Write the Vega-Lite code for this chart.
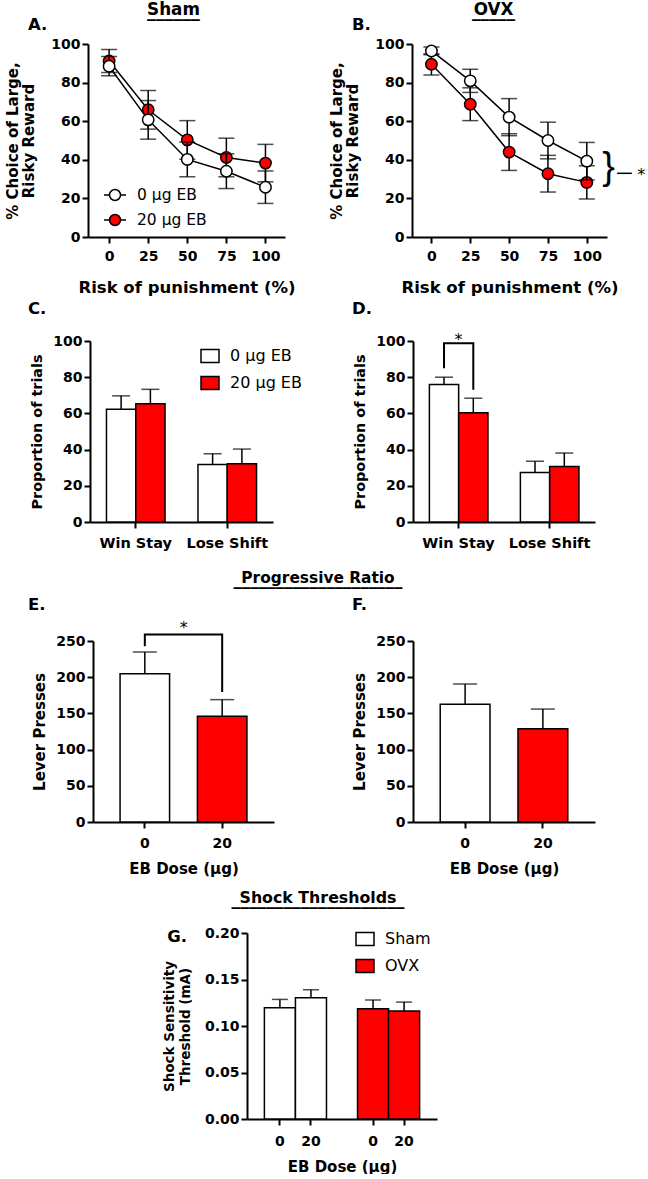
{
  "$schema": "https://vega.github.io/schema/vega-lite/v6.json",
  "padding": 0,
  "background": "white",
  "spacing": 0,
  "bounds": "flush",
  "resolve": {"scale": {"fill": "independent"}, "legend": {"fill": "independent"}},
  "config": {
    "font": "DejaVu Sans",
    "view": {"stroke": null},
    "axis": {"domainColor": "black", "domainWidth": 2, "tickColor": "black", "tickWidth": 2, "tickSize": 6, "labelFont": "DejaVu Sans", "labelFontWeight": "bold", "labelFontSize": 14, "labelColor": "black", "titleFont": "DejaVu Sans", "titleFontWeight": "bold", "titleColor": "black", "grid": false, "labelPadding": 2, "labelOverlap": false},
    "axisX": {"labelPadding": 6},
    "legend": {"labelFont": "DejaVu Sans", "labelColor": "black", "symbolStrokeColor": "black"},
    "title": {"font": "DejaVu Sans", "fontWeight": "bold", "color": "black", "subtitleFont": "DejaVu Sans", "subtitleFontWeight": "bold", "subtitleColor": "black"}
  },
  "vconcat": [
    {"width": 1, "height": 44, "data": {"values": []}, "mark": "point"},
    {
      "spacing": 0, "bounds": "flush",
      "resolve": {"scale": {"fill": "independent"}, "legend": {"fill": "independent"}},
      "hconcat": [
        {"width": 88, "height": 1, "data": {"values": []}, "mark": "point", "title": {"text": "A.", "anchor": "start", "frame": "group", "dx": 28, "offset": 10.5, "fontSize": 16.5}},
        {
          "width": 197, "height": 193,
          "title": {"text": "Sham", "subtitle": "______", "subtitleFontSize": 17.6, "subtitlePadding": -16.1, "anchor": "middle", "frame": "group", "dx": -13, "offset": 16.5, "fontSize": 16.8},
          "data": {"values": [
            {"risk": 0, "eb": 0, "dose": "0 µg EB", "mean": 88.5, "sem": 5},
            {"risk": 25, "eb": 0, "dose": "0 µg EB", "mean": 60.7, "sem": 10},
            {"risk": 50, "eb": 0, "dose": "0 µg EB", "mean": 40.2, "sem": 9},
            {"risk": 75, "eb": 0, "dose": "0 µg EB", "mean": 34.1, "sem": 9},
            {"risk": 100, "eb": 0, "dose": "0 µg EB", "mean": 25.8, "sem": 8.4},
            {"risk": 0, "eb": 20, "dose": "20 µg EB", "mean": 91.2, "sem": 6},
            {"risk": 25, "eb": 20, "dose": "20 µg EB", "mean": 65.9, "sem": 10},
            {"risk": 50, "eb": 20, "dose": "20 µg EB", "mean": 50.3, "sem": 10},
            {"risk": 75, "eb": 20, "dose": "20 µg EB", "mean": 41.2, "sem": 10},
            {"risk": 100, "eb": 20, "dose": "20 µg EB", "mean": 38.3, "sem": 9.7}
          ]},
          "encoding": {
            "x": {"field": "risk", "type": "quantitative", "scale": {"domain": [-13.5, 112.5], "nice": false, "zero": false}, "axis": {"values": [0, 25, 50, 75, 100], "titleFontSize": 16.5, "titlePadding": 16, "labelPadding": 6}, "title": "Risk of punishment (%)"},
            "y": {"field": "mean", "type": "quantitative", "scale": {"domain": [0, 100], "nice": false}, "axis": {"values": [0, 20, 40, 60, 80, 100], "titleFontSize": 15, "titlePadding": 14, "titleLineHeight": 16}, "title": ["%  Choice of Large,", "Risky  Reward"]}
          },
          "layer": [
            {"transform": [{"filter": "datum.eb == 20"}], "layer": [
              {"mark": {"type": "errorbar", "ticks": true, "size": 16, "thickness": 1.5, "color": "black"}, "encoding": {"yError": {"field": "sem"}}},
              {"mark": {"type": "line", "color": "black", "strokeWidth": 1.5}, "encoding": {}},
              {"mark": {"type": "point", "filled": true, "size": 130, "stroke": "black", "strokeWidth": 1.5, "opacity": 1}, "encoding": {"fill": {"field": "dose", "type": "nominal", "scale": {"domain": ["0 µg EB", "20 µg EB"], "range": ["white", "#ff0000"]}, "legend": {"title": null, "orient": "none", "legendX": 15, "legendY": 139, "symbolType": "M-1,0L-0.5,0M0.5,0L1,0M0.5,0A0.5,0.5,0,1,1,-0.5,0A0.5,0.5,0,1,1,0.5,0Z", "symbolSize": 484, "symbolStrokeWidth": 1.5, "symbolStrokeColor": "black", "labelFontSize": 15.5, "labelFontWeight": "normal", "labelOffset": 10, "rowPadding": 4, "padding": 0}}}}
            ]},
            {"transform": [{"filter": "datum.eb == 0"}], "layer": [
              {"mark": {"type": "errorbar", "ticks": true, "size": 16, "thickness": 1.5, "color": "black"}, "encoding": {"yError": {"field": "sem"}}},
              {"mark": {"type": "line", "color": "black", "strokeWidth": 1.5}, "encoding": {}},
              {"mark": {"type": "point", "filled": true, "size": 130, "stroke": "black", "strokeWidth": 1.5, "opacity": 1}, "encoding": {"fill": {"field": "dose", "type": "nominal", "scale": {"domain": ["0 µg EB", "20 µg EB"], "range": ["white", "#ff0000"]}}}}
            ]}
          ]
        },
        {"width": 127, "height": 1, "data": {"values": []}, "mark": "point", "title": {"text": "B.", "anchor": "start", "frame": "group", "dx": 67, "offset": 10.5, "fontSize": 16.5}},
        {
          "width": 195, "height": 193,
          "title": {"text": "OVX", "subtitle": "_____", "subtitleFontSize": 17.2, "subtitlePadding": -15.7, "anchor": "middle", "frame": "group", "dx": -16, "offset": 16.5, "fontSize": 16.8},
          "data": {"values": [
            {"risk": 0, "eb": 0, "dose": "0 µg EB", "mean": 96.4, "sem": 2},
            {"risk": 25, "eb": 0, "dose": "0 µg EB", "mean": 80.9, "sem": 6},
            {"risk": 50, "eb": 0, "dose": "0 µg EB", "mean": 62.1, "sem": 9.6},
            {"risk": 75, "eb": 0, "dose": "0 µg EB", "mean": 50, "sem": 9.5},
            {"risk": 100, "eb": 0, "dose": "0 µg EB", "mean": 39.3, "sem": 9.7},
            {"risk": 0, "eb": 20, "dose": "20 µg EB", "mean": 89.5, "sem": 5.5},
            {"risk": 25, "eb": 20, "dose": "20 µg EB", "mean": 68.8, "sem": 8.5},
            {"risk": 50, "eb": 20, "dose": "20 µg EB", "mean": 44, "sem": 9.5},
            {"risk": 75, "eb": 20, "dose": "20 µg EB", "mean": 32.8, "sem": 9.5},
            {"risk": 100, "eb": 20, "dose": "20 µg EB", "mean": 28.3, "sem": 8.6}
          ]},
          "encoding": {
            "x": {"field": "risk", "type": "quantitative", "scale": {"domain": [-12.5, 113], "nice": false, "zero": false}, "axis": {"values": [0, 25, 50, 75, 100], "titleFontSize": 16.5, "titlePadding": 16, "labelPadding": 6}, "title": "Risk of punishment (%)"},
            "y": {"field": "mean", "type": "quantitative", "scale": {"domain": [0, 100], "nice": false}, "axis": {"values": [0, 20, 40, 60, 80, 100], "titleFontSize": 15, "titlePadding": 14, "titleLineHeight": 16}, "title": ["%  Choice of Large,", "Risky  Reward"]}
          },
          "layer": [
            {"transform": [{"filter": "datum.eb == 20"}], "layer": [
              {"mark": {"type": "errorbar", "ticks": true, "size": 16, "thickness": 1.5, "color": "black"}, "encoding": {"yError": {"field": "sem"}}},
              {"mark": {"type": "line", "color": "black", "strokeWidth": 1.5}, "encoding": {}},
              {"mark": {"type": "point", "filled": true, "size": 130, "stroke": "black", "strokeWidth": 1.5, "opacity": 1}, "encoding": {"fill": {"field": "dose", "type": "nominal", "scale": {"domain": ["0 µg EB", "20 µg EB"], "range": ["white", "#ff0000"]}, "legend": null}}}
            ]},
            {"transform": [{"filter": "datum.eb == 0"}], "layer": [
              {"mark": {"type": "errorbar", "ticks": true, "size": 16, "thickness": 1.5, "color": "black"}, "encoding": {"yError": {"field": "sem"}}},
              {"mark": {"type": "line", "color": "black", "strokeWidth": 1.5}, "encoding": {}},
              {"mark": {"type": "point", "filled": true, "size": 130, "stroke": "black", "strokeWidth": 1.5, "opacity": 1}, "encoding": {"fill": {"field": "dose", "type": "nominal", "scale": {"domain": ["0 µg EB", "20 µg EB"], "range": ["white", "#ff0000"]}, "legend": null}}}
            ]},
            {"data": {"values": [{"risk": 114, "mean": 33, "label": "}"}]}, "mark": {"type": "text", "font": "Liberation Sans", "fontSize": 38, "fontWeight": "normal", "align": "center", "baseline": "middle", "dy": -5}, "encoding": {"text": {"field": "label"}}},
            {"data": {"values": [{"risk": 119.5, "risk2": 129, "mean": 33}]}, "mark": {"type": "rule", "color": "black", "strokeWidth": 1.5}, "encoding": {"x2": {"field": "risk2"}}},
            {"data": {"values": [{"risk": 135, "mean": 33, "label": "*"}]}, "mark": {"type": "text", "fontSize": 16, "align": "center", "baseline": "middle", "dy": 2}, "encoding": {"text": {"field": "label"}}}
          ]
        }
      ]
    },
    {"width": 1, "height": 297, "data": {"values": []}, "mark": "point"},
    {
      "spacing": 0, "bounds": "flush",
      "resolve": {"scale": {"fill": "independent"}, "legend": {"fill": "independent"}},
      "hconcat": [
        {"width": 90, "height": 1, "data": {"values": []}, "mark": "point", "title": {"text": "C.", "anchor": "start", "frame": "group", "dx": 28, "offset": 23.5, "fontSize": 16.5}},
        {
          "width": 183, "height": 181,
          "data": {"values": [
            {"cat": "Win Stay", "dose": "0 µg EB", "mean": 62.3, "hi": 69.7},
            {"cat": "Win Stay", "dose": "20 µg EB", "mean": 65.3, "hi": 73.3},
            {"cat": "Lose Shift", "dose": "0 µg EB", "mean": 31.8, "hi": 37.7},
            {"cat": "Lose Shift", "dose": "20 µg EB", "mean": 32.2, "hi": 40.3}
          ]},
          "encoding": {"x": {"field": "cat", "type": "nominal", "sort": ["Win Stay", "Lose Shift"], "scale": {"paddingInner": 0.36, "paddingOuter": 0.18}, "axis": {"labelAngle": 0, "labelFontSize": 14.5, "labelPadding": 8}, "title": null}},
          "layer": [
            {"mark": {"type": "rule", "color": "black", "strokeWidth": 1.5}, "encoding": {"xOffset": {"field": "dose", "type": "nominal", "scale": {"paddingInner": 0, "paddingOuter": 0}}, "y": {"field": "mean", "type": "quantitative", "scale": {"domain": [0, 100], "nice": false}, "axis": {"values": [0, 20, 40, 60, 80, 100], "titleFontSize": 14.4, "titlePadding": 8}, "title": "Proportion of trials"}, "y2": {"field": "hi"}}},
            {"mark": {"type": "bar", "stroke": "black", "strokeWidth": 1.5}, "encoding": {"xOffset": {"field": "dose", "type": "nominal"}, "y": {"field": "mean", "type": "quantitative", "stack": null, "scale": {"domain": [0, 100], "nice": false}, "axis": {"values": [0, 20, 40, 60, 80, 100], "titleFontSize": 14.4, "titlePadding": 8}, "title": "Proportion of trials"}, "fill": {"field": "dose", "type": "nominal", "scale": {"domain": ["0 µg EB", "20 µg EB"], "range": ["white", "#ff0000"]}, "legend": {"title": null, "orient": "none", "legendX": 110, "legendY": 5, "symbolType": "M-1,-0.72L1,-0.72L1,0.72L-1,0.72Z", "symbolSize": 324, "symbolStrokeWidth": 1.5, "symbolStrokeColor": "black", "labelFontSize": 16, "labelFontWeight": "normal", "labelOffset": 10, "rowPadding": 7, "padding": 0}}}},
            {"mark": {"type": "tick", "color": "black", "size": 18, "thickness": 1.5}, "encoding": {"xOffset": {"field": "dose", "type": "nominal"}, "y": {"field": "hi", "type": "quantitative", "scale": {"domain": [0, 100], "nice": false}, "axis": {"values": [0, 20, 40, 60, 80, 100], "titleFontSize": 14.4, "titlePadding": 8}, "title": "Proportion of trials"}}}
          ]
        },
        {"width": 140, "height": 1, "data": {"values": []}, "mark": "point", "title": {"text": "D.", "anchor": "start", "frame": "group", "dx": 79, "offset": 23.5, "fontSize": 16.5}},
        {
          "width": 182, "height": 181,
          "data": {"values": [
            {"cat": "Win Stay", "dose": "0 µg EB", "mean": 75.9, "hi": 80},
            {"cat": "Win Stay", "dose": "20 µg EB", "mean": 60.3, "hi": 68.4},
            {"cat": "Lose Shift", "dose": "0 µg EB", "mean": 27.4, "hi": 33.5},
            {"cat": "Lose Shift", "dose": "20 µg EB", "mean": 30.7, "hi": 38.1}
          ]},
          "encoding": {"x": {"field": "cat", "type": "nominal", "sort": ["Win Stay", "Lose Shift"], "scale": {"paddingInner": 0.36, "paddingOuter": 0.18}, "axis": {"labelAngle": 0, "labelFontSize": 14.5, "labelPadding": 8}, "title": null}},
          "layer": [
            {"mark": {"type": "rule", "color": "black", "strokeWidth": 1.5}, "encoding": {"xOffset": {"field": "dose", "type": "nominal", "scale": {"paddingInner": 0, "paddingOuter": 0}}, "y": {"field": "mean", "type": "quantitative", "scale": {"domain": [0, 100], "nice": false}, "axis": {"values": [0, 20, 40, 60, 80, 100], "titleFontSize": 14.4, "titlePadding": 8}, "title": "Proportion of trials"}, "y2": {"field": "hi"}}},
            {"mark": {"type": "bar", "stroke": "black", "strokeWidth": 1.5}, "encoding": {"xOffset": {"field": "dose", "type": "nominal"}, "y": {"field": "mean", "type": "quantitative", "stack": null, "scale": {"domain": [0, 100], "nice": false}, "axis": {"values": [0, 20, 40, 60, 80, 100], "titleFontSize": 14.4, "titlePadding": 8}, "title": "Proportion of trials"}, "fill": {"field": "dose", "type": "nominal", "scale": {"domain": ["0 µg EB", "20 µg EB"], "range": ["white", "#ff0000"]}, "legend": null}}},
            {"mark": {"type": "tick", "color": "black", "size": 18, "thickness": 1.5}, "encoding": {"xOffset": {"field": "dose", "type": "nominal"}, "y": {"field": "hi", "type": "quantitative", "scale": {"domain": [0, 100], "nice": false}, "axis": {"values": [0, 20, 40, 60, 80, 100], "titleFontSize": 14.4, "titlePadding": 8}, "title": "Proportion of trials"}}},
            {"data": {"values": [
              {"cat": "Win Stay", "dose": "0 µg EB", "mean": 85, "o": 1},
              {"cat": "Win Stay", "dose": "0 µg EB", "mean": 98.7, "o": 2},
              {"cat": "Win Stay", "dose": "20 µg EB", "mean": 98.7, "o": 3},
              {"cat": "Win Stay", "dose": "20 µg EB", "mean": 73, "o": 4}
            ]}, "mark": {"type": "line", "color": "black", "strokeWidth": 2}, "encoding": {"xOffset": {"field": "dose", "type": "nominal"}, "y": {"field": "mean", "type": "quantitative", "scale": {"domain": [0, 100], "nice": false}, "axis": {"values": [0, 20, 40, 60, 80, 100], "titleFontSize": 14.4, "titlePadding": 8}, "title": "Proportion of trials"}, "order": {"field": "o", "type": "quantitative"}}},
            {"data": {"values": [{"cat": "Win Stay", "mean": 103, "label": "*"}]}, "mark": {"type": "text", "fontSize": 16, "align": "center", "baseline": "middle", "dy": 4}, "encoding": {"y": {"field": "mean", "type": "quantitative", "scale": {"domain": [0, 100], "nice": false}, "axis": {"values": [0, 20, 40, 60, 80, 100], "titleFontSize": 14.4, "titlePadding": 8}, "title": "Proportion of trials"}, "text": {"field": "label"}}}
          ]
        }
      ]
    },
    {"width": 648, "height": 300, "data": {"values": []}, "mark": "point", "title": {"text": "Progressive Ratio", "subtitle": "____________________", "subtitleFontSize": 16.9, "subtitlePadding": -15.1, "anchor": "middle", "frame": "group", "dx": -6, "offset": -247.2, "fontSize": 15.4}},
    {
      "spacing": 0, "bounds": "flush",
      "resolve": {"scale": {"fill": "independent"}, "legend": {"fill": "independent"}},
      "hconcat": [
        {"width": 93, "height": 1, "data": {"values": []}, "mark": "point", "title": {"text": "E.", "anchor": "start", "frame": "group", "dx": 28, "offset": 27.5, "fontSize": 16.5}},
        {
          "width": 181, "height": 181,
          "data": {"values": [{"dose": "0", "mean": 204.9, "hi": 234.8}, {"dose": "20", "mean": 146, "hi": 169}]},
          "encoding": {"x": {"field": "dose", "type": "nominal", "sort": ["0", "20"], "scale": {"paddingInner": 0.36, "paddingOuter": 0.35}, "axis": {"labelAngle": 0, "labelPadding": 8, "titleFontSize": 15, "titlePadding": 11}, "title": "EB Dose (µg)"}},
          "layer": [
            {"mark": {"type": "rule", "color": "black", "strokeWidth": 1.5}, "encoding": {"y": {"field": "mean", "type": "quantitative", "scale": {"domain": [0, 250], "nice": false}, "axis": {"values": [0, 50, 100, 150, 200, 250], "titleFontSize": 15, "titlePadding": 8}, "title": "Lever Presses"}, "y2": {"field": "hi"}}},
            {"mark": {"type": "bar", "stroke": "black", "strokeWidth": 1.5}, "encoding": {"y": {"field": "mean", "type": "quantitative", "stack": null, "scale": {"domain": [0, 250], "nice": false}, "axis": {"values": [0, 50, 100, 150, 200, 250], "titleFontSize": 15, "titlePadding": 8}, "title": "Lever Presses"}, "fill": {"field": "dose", "type": "nominal", "scale": {"domain": ["0", "20"], "range": ["white", "#ff0000"]}, "legend": null}}},
            {"mark": {"type": "tick", "color": "black", "size": 24, "thickness": 1.5}, "encoding": {"y": {"field": "hi", "type": "quantitative", "scale": {"domain": [0, 250], "nice": false}, "axis": {"values": [0, 50, 100, 150, 200, 250], "titleFontSize": 15, "titlePadding": 8}, "title": "Lever Presses"}}},
            {"data": {"values": [
              {"dose": "0", "mean": 242.6, "o": 1},
              {"dose": "0", "mean": 259, "o": 2},
              {"dose": "20", "mean": 259, "o": 3},
              {"dose": "20", "mean": 179.5, "o": 4}
            ]}, "mark": {"type": "line", "color": "black", "strokeWidth": 2}, "encoding": {"y": {"field": "mean", "type": "quantitative", "scale": {"domain": [0, 250], "nice": false}, "axis": {"values": [0, 50, 100, 150, 200, 250], "titleFontSize": 15, "titlePadding": 8}, "title": "Lever Presses"}, "order": {"field": "o", "type": "quantitative"}}},
            {"data": {"values": [{"dose": "0", "mean": 273.5, "label": "*"}]}, "mark": {"type": "text", "fontSize": 16, "align": "center", "baseline": "middle", "dx": 39, "dy": 4}, "encoding": {"y": {"field": "mean", "type": "quantitative", "scale": {"domain": [0, 250], "nice": false}, "axis": {"values": [0, 50, 100, 150, 200, 250], "titleFontSize": 15, "titlePadding": 8}, "title": "Lever Presses"}, "text": {"field": "label"}}}
          ]
        },
        {"width": 139, "height": 1, "data": {"values": []}, "mark": "point", "title": {"text": "F.", "anchor": "start", "frame": "group", "dx": 78, "offset": 28, "fontSize": 16.5}},
        {
          "width": 182, "height": 181,
          "data": {"values": [{"dose": "0", "mean": 162.5, "hi": 190.6}, {"dose": "20", "mean": 128.9, "hi": 156}]},
          "encoding": {"x": {"field": "dose", "type": "nominal", "sort": ["0", "20"], "scale": {"paddingInner": 0.36, "paddingOuter": 0.35}, "axis": {"labelAngle": 0, "labelPadding": 8, "titleFontSize": 15, "titlePadding": 11}, "title": "EB Dose (µg)"}},
          "layer": [
            {"mark": {"type": "rule", "color": "black", "strokeWidth": 1.5}, "encoding": {"y": {"field": "mean", "type": "quantitative", "scale": {"domain": [0, 250], "nice": false}, "axis": {"values": [0, 50, 100, 150, 200, 250], "titleFontSize": 15, "titlePadding": 8}, "title": "Lever Presses"}, "y2": {"field": "hi"}}},
            {"mark": {"type": "bar", "stroke": "black", "strokeWidth": 1.5}, "encoding": {"y": {"field": "mean", "type": "quantitative", "stack": null, "scale": {"domain": [0, 250], "nice": false}, "axis": {"values": [0, 50, 100, 150, 200, 250], "titleFontSize": 15, "titlePadding": 8}, "title": "Lever Presses"}, "fill": {"field": "dose", "type": "nominal", "scale": {"domain": ["0", "20"], "range": ["white", "#ff0000"]}, "legend": null}}},
            {"mark": {"type": "tick", "color": "black", "size": 24, "thickness": 1.5}, "encoding": {"y": {"field": "hi", "type": "quantitative", "scale": {"domain": [0, 250], "nice": false}, "axis": {"values": [0, 50, 100, 150, 200, 250], "titleFontSize": 15, "titlePadding": 8}, "title": "Lever Presses"}}}
          ]
        }
      ]
    },
    {"width": 648, "height": 292, "data": {"values": []}, "mark": "point", "title": {"text": "Shock Thresholds", "subtitle": "____________________", "subtitleFontSize": 17.3, "subtitlePadding": -15.6, "anchor": "middle", "frame": "group", "dx": -6, "offset": -268.7, "fontSize": 15.8}},
    {
      "spacing": 0, "bounds": "flush",
      "resolve": {"scale": {"fill": "independent"}, "legend": {"fill": "independent"}},
      "hconcat": [
        {"width": 247, "height": 1, "data": {"values": []}, "mark": "point", "title": {"text": "G.", "anchor": "end", "frame": "group", "dx": -60, "offset": -12.5, "fontSize": 16.5}},
        {
          "width": 190, "height": 186,
          "data": {"values": [
            {"bar": "S0", "group": "Sham", "mean": 0.1196, "hi": 0.1286},
            {"bar": "S20", "group": "Sham", "mean": 0.1304, "hi": 0.139},
            {"bar": "O0", "group": "OVX", "mean": 0.1186, "hi": 0.128},
            {"bar": "O20", "group": "OVX", "mean": 0.116, "hi": 0.1257}
          ]},
          "encoding": {"x": {"field": "bar", "type": "nominal", "scale": {"domain": ["S0", "S20", "gap", "O0", "O20"], "paddingInner": 0, "paddingOuter": 0.56}, "axis": {"values": ["S0", "S20", "O0", "O20"], "labelExpr": "indexof(datum.value, '20') >= 0 ? '20' : '0'", "labelAngle": 0, "labelPadding": 9, "titleFontSize": 15, "titlePadding": 11}, "title": "EB Dose (µg)"}},
          "layer": [
            {"mark": {"type": "rule", "color": "black", "strokeWidth": 1.5}, "encoding": {"y": {"field": "mean", "type": "quantitative", "scale": {"domain": [0, 0.2], "nice": false}, "axis": {"values": [0, 0.05, 0.1, 0.15, 0.2], "format": ".2f", "titleFontSize": 13.5, "titlePadding": 12, "titleLineHeight": 16}, "title": ["Shock Sensitivity", "Threshold (mA)"]}, "y2": {"field": "hi"}}},
            {"mark": {"type": "bar", "stroke": "black", "strokeWidth": 1.5}, "encoding": {"y": {"field": "mean", "type": "quantitative", "stack": null, "scale": {"domain": [0, 0.2], "nice": false}, "axis": {"values": [0, 0.05, 0.1, 0.15, 0.2], "format": ".2f", "titleFontSize": 13.5, "titlePadding": 12, "titleLineHeight": 16}, "title": ["Shock Sensitivity", "Threshold (mA)"]}, "fill": {"field": "group", "type": "nominal", "scale": {"domain": ["Sham", "OVX"], "range": ["white", "#ff0000"]}, "legend": {"title": null, "orient": "none", "legendX": 108, "legendY": -4, "symbolType": "M-1,-0.72L1,-0.72L1,0.72L-1,0.72Z", "symbolSize": 324, "symbolStrokeWidth": 1.5, "symbolStrokeColor": "black", "labelFontSize": 16, "labelFontWeight": "normal", "labelOffset": 10, "rowPadding": 7, "padding": 0}}}},
            {"mark": {"type": "tick", "color": "black", "size": 16, "thickness": 1.5}, "encoding": {"y": {"field": "hi", "type": "quantitative", "scale": {"domain": [0, 0.2], "nice": false}, "axis": {"values": [0, 0.05, 0.1, 0.15, 0.2], "format": ".2f", "titleFontSize": 13.5, "titlePadding": 12, "titleLineHeight": 16}, "title": ["Shock Sensitivity", "Threshold (mA)"]}}}
          ]
        }
      ]
    }
  ]
}
